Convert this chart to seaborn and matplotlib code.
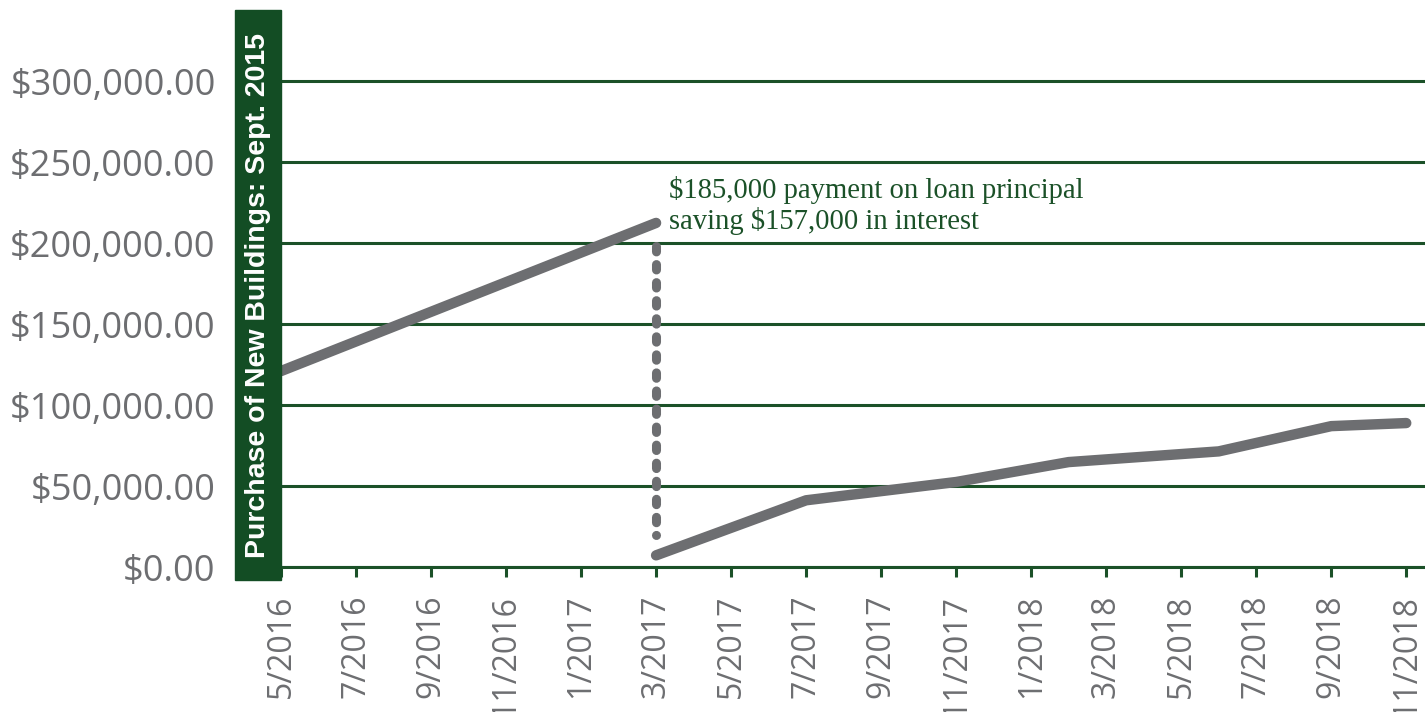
import numpy as np
import pandas as pd
import matplotlib
matplotlib.use("Agg")
import matplotlib.pyplot as plt
from matplotlib.patches import Rectangle
import matplotlib.ticker as ticker
import seaborn as sns

# data
tick_labels = ["5/2016", "7/2016", "9/2016", "11/2016", "1/2017", "3/2017", "5/2017", "7/2017",
               "9/2017", "11/2017", "1/2018", "3/2018", "5/2018", "7/2018", "9/2018", "11/2018"]
before_dates = ["5/2016", "3/2017"]
before_values = [121000, 212500]
after_dates = ["3/2017", "7/2017", "11/2017", "2/2018", "6/2018", "9/2018", "11/2018"]
after_values = [7200, 41200, 52500, 64800, 71400, 87000, 88900]
payment_date = "3/2017"
payment_top = 198000
payment_bottom = 20000
note = "$185,000 payment on loan principal\nsaving $157,000 in interest"
banner = "Purchase of New Buildings: Sept. 2015"

GREEN = "#1b5128"
GREY = "#6d6e71"


def month_index(s):
    m, y = s.split("/")
    return (int(y) - 2016) * 12 + int(m) - 5


df_before = pd.DataFrame({"x": [month_index(d) for d in before_dates], "value": before_values})
df_after = pd.DataFrame({"x": [month_index(d) for d in after_dates], "value": after_values})

sns.set_style("white")
plt.rcParams['font.family'] = ['Open Sans', 'DejaVu Sans']

fig = plt.figure(figsize=(14.25, 7.12), dpi=100)
ax = fig.add_axes([281 / 1425, 145 / 712, 1144 / 1425, 557 / 712])

sns.lineplot(data=df_before, x="x", y="value", ax=ax, color=GREY, lw=7.5,
             solid_capstyle="round", zorder=5)
sns.lineplot(data=df_after, x="x", y="value", ax=ax, color=GREY, lw=7.5,
             solid_capstyle="round", solid_joinstyle="round", zorder=5)

# dotted drop at the payment
px = month_index(payment_date)
ax.plot([px, px], [payment_top, payment_bottom], color=GREY, lw=6.5,
        linestyle=(0, (0.6, 1.4)), dash_capstyle="round", zorder=4)

# second-line baseline of the note
ax.text(px + 0.35, 209000, note, family=["Liberation Serif", "DejaVu Serif"],
        fontsize=20.6, color=GREEN, va="baseline", ha="left", linespacing=1.1)

ax.set_xlim(0, 30.5)
ax.set_ylim(0, 344000)
ax.set_yticks(np.arange(0, 300001, 50000))
ax.yaxis.set_major_formatter(ticker.FuncFormatter(lambda v, p: f"${v:,.2f}"))
ax.set_xticks([month_index(t) for t in tick_labels])
ax.set_xticklabels(tick_labels, rotation=90)

ax.grid(axis="y", color=GREEN, lw=2.2)
ax.grid(axis="x", visible=False)
for s in ["top", "right", "left"]:
    ax.spines[s].set_visible(False)
ax.spines["bottom"].set_color(GREEN)
ax.spines["bottom"].set_linewidth(2.2)
ax.tick_params(axis="x", length=7, width=2.2, color=GREEN, labelsize=23,
               labelcolor=GREY, pad=13, bottom=True)
ax.tick_params(axis="y", length=0, labelsize=26, labelcolor=GREY, pad=47)
ax.set_xlabel("")
ax.set_ylabel("")

# green banner at left
fig.patches.append(Rectangle((235 / 1425, (712 - 580) / 712), 46 / 1425, 570 / 712,
                             transform=fig.transFigure, color="#134d24", zorder=10))
fig.text(258 / 1425, (712 - 295) / 712, banner, rotation=90, color="white",
         family=["Liberation Sans", "DejaVu Sans"], weight="bold", fontsize=20.5,
         ha="center", va="center", zorder=11)

fig.savefig("out.png", dpi=100)
